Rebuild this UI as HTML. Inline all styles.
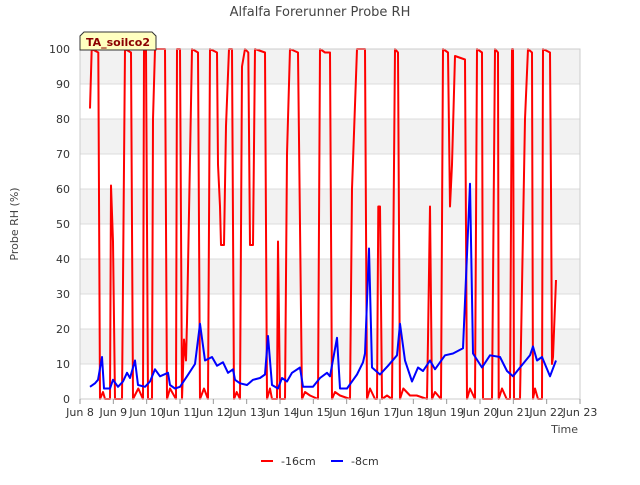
<!DOCTYPE html>
<html><head><meta charset="utf-8"><style>
body{margin:0;background:#fff;font-family:"Liberation Sans","DejaVu Sans",sans-serif}
</style></head><body>
<svg id="chart" width="640" height="480" xmlns="http://www.w3.org/2000/svg" font-family="DejaVu Sans, Liberation Sans, sans-serif">
<g id="bands"></g><g id="grid"></g><g id="series"></g><g id="axes"></g>
<text x="320" y="16" text-anchor="middle" font-size="13" fill="#444">Alfalfa Forerunner Probe RH</text>
<text transform="translate(18,224) rotate(-90)" text-anchor="middle" font-size="11" fill="#444">Probe RH (%)</text>
<text x="578" y="433" text-anchor="end" font-size="11" fill="#444">Time</text>
<g>
<path d="M80,50 L80,36 L84,32 L152,32 L156,36 L156,50 Z" fill="#ffffc0" stroke="#333" stroke-width="1"/>
<text x="118" y="46" text-anchor="middle" font-size="11" font-weight="bold" fill="#8b0000">TA_soilco2</text>
</g>
<g>
<g><rect x="261" y="460" width="12" height="2" fill="#ff0000"/><text x="281" y="465" font-size="11" fill="#333">-16cm</text></g>
<g><rect x="331" y="460" width="12" height="2" fill="#0000ff"/><text x="351" y="465" font-size="11" fill="#333">-8cm</text></g>
</g>
</svg>
<script>
const xTickDays=[8,9,10,11,12,13,14,15,16,17,18,19,20,21,22,23];
const xTickLabels=["Jun 8","Jun 9","Jun 10","Jun 11","Jun 12","Jun 13","Jun 14","Jun 15","Jun 16","Jun 17","Jun 18","Jun 19","Jun 20","Jun 21","Jun 22","Jun 23"];
const yTicks=[0,10,20,30,40,50,60,70,80,90,100];
const red16=[[8.30,83],[8.35,100],[8.55,99],[8.60,0],[8.69,2],[8.75,0],[8.90,0],[8.93,61],[8.99,45],[9.05,0],[9.26,0],[9.35,100],[9.53,99],[9.59,0],[9.75,3],[9.89,0],[9.92,100],[9.98,100],[10.04,0],[10.16,0],[10.19,80],[10.25,100],[10.55,100],[10.61,0],[10.70,3],[10.88,0],[10.91,100],[11.0,100],[11.06,0],[11.12,17],[11.18,11],[11.21,22],[11.36,100],[11.54,99],[11.60,0],[11.72,3],[11.84,0],[11.90,100],[12.11,99],[12.14,67],[12.17,61],[12.20,55],[12.23,44],[12.32,44],[12.38,78],[12.47,100],[12.56,100],[12.62,0],[12.70,2],[12.80,0],[12.86,95],[12.95,100],[13.05,99],[13.10,44],[13.19,44],[13.25,100],[13.55,99],[13.61,0],[13.70,3],[13.76,0],[13.91,0],[13.94,45],[14.0,0],[14.15,0],[14.21,70],[14.30,100],[14.54,99],[14.66,0],[14.75,2],[14.90,1],[15.14,0],[15.20,100],[15.35,99],[15.50,99],[15.56,0],[15.65,2],[15.80,1],[16.10,0],[16.16,60],[16.31,100],[16.55,100],[16.61,0],[16.70,3],[16.85,0],[16.91,0],[16.95,55],[17.0,55],[17.06,0],[17.21,1],[17.36,0],[17.45,100],[17.54,99],[17.60,0],[17.70,3],[17.90,1],[18.10,1],[18.41,0],[18.44,17],[18.50,55],[18.56,0],[18.65,2],[18.83,0],[18.89,100],[19.04,99],[19.10,55],[19.16,67],[19.25,98],[19.55,97],[19.61,0],[19.70,3],[19.85,0],[19.91,100],[20.06,99],[20.09,0],[20.36,0],[20.45,100],[20.54,99],[20.56,0],[20.66,3],[20.80,0],[20.90,0],[20.96,100],[20.99,100],[21.02,0],[21.20,0],[21.35,80],[21.44,100],[21.56,99],[21.59,0],[21.65,3],[21.74,0],[21.86,0],[21.89,100],[22.10,99],[22.13,60],[22.16,10],[22.19,12],[22.28,34]];
const blue8=[[8.30,3.5],[8.45,4.5],[8.54,5.5],[8.66,12],[8.72,3],[8.90,3],[8.99,5.5],[9.14,3.5],[9.29,5],[9.41,7.5],[9.50,6],[9.65,11],[9.74,4],[9.95,3.5],[10.10,5],[10.25,8.5],[10.40,6.5],[10.64,7.5],[10.70,4],[10.85,3],[11.0,3.5],[11.21,6.5],[11.45,10],[11.60,21.5],[11.75,11],[11.96,12],[12.11,9.5],[12.29,10.5],[12.44,7.5],[12.59,8.5],[12.65,5.5],[12.80,4.5],[13.01,4],[13.19,5.5],[13.40,6],[13.55,7],[13.64,18],[13.76,4],[13.94,3],[14.06,6],[14.21,5],[14.36,7.5],[14.60,9],[14.69,3.5],[14.99,3.5],[15.20,6],[15.41,7.5],[15.50,6.5],[15.71,17.5],[15.80,3],[16.01,3],[16.31,7],[16.49,10.5],[16.55,13],[16.67,43],[16.76,9],[17.0,7],[17.24,9.5],[17.51,12.5],[17.60,21.5],[17.75,11],[17.96,5],[18.14,9],[18.29,8],[18.50,11],[18.65,8.5],[18.95,12.5],[19.19,13],[19.49,14.5],[19.70,61.5],[19.79,13],[20.06,9],[20.30,12.5],[20.60,12],[20.81,8],[20.99,6.5],[21.20,9],[21.50,12.5],[21.59,15],[21.71,11],[21.86,12],[22.10,6.5],[22.28,11]];
const NS="http://www.w3.org/2000/svg";
const X0=80,X1=580,Y0=399,Y1=49;
const xs=d=>X0+(d-8)/(23-8)*(X1-X0);
const ys=v=>Y0-(v/100)*(Y0-Y1);
function mk(tag,attrs,parent){const e=document.createElementNS(NS,tag);for(const k in attrs)e.setAttribute(k,attrs[k]);document.getElementById(parent).appendChild(e);return e;}
for(let i=0;i<yTicks.length-1;i++){
  if(i%2===1){const r=mk('rect',{x:X0,y:ys(yTicks[i+1]),width:X1-X0,height:ys(yTicks[i])-ys(yTicks[i+1]),fill:'#f2f2f2'},'bands');
  
  }
}
yTicks.forEach(v=>{
  const l=mk('line',{x1:X0,x2:X1,y1:ys(v),y2:ys(v),stroke:'#dcdcdc','stroke-width':1},'grid');
  
  
  const t=mk('text',{x:X0-10,y:ys(v)+4,'text-anchor':'end','font-size':11,fill:'#333'},'axes');t.textContent=v;
  
  
});
const fr=mk('rect',{x:X0,y:Y1,width:X1-X0,height:Y0-Y1,fill:'none',stroke:'#ccc'},'axes');


xTickDays.forEach((d,i)=>{
  const tk=mk('line',{x1:xs(d),x2:xs(d),y1:Y0,y2:Y0+5,stroke:'#999'},'axes');
  
  
  const t=mk('text',{x:xs(d),y:Y0+17,'text-anchor':'middle','font-size':11,fill:'#333'},'axes');t.textContent=xTickLabels[i];
  
  
});
function line(data,color,name){
  const p=mk('polyline',{points:data.map(d=>xs(d[0]).toFixed(1)+','+ys(d[1]).toFixed(1)).join(' '),fill:'none',stroke:color,'stroke-width':2,'stroke-linejoin':'round'},'series');
  
  
}
line(red16,'#ff0000','series-16cm');
line(blue8,'#0000ff','series-8cm');
</script>
</body></html>
